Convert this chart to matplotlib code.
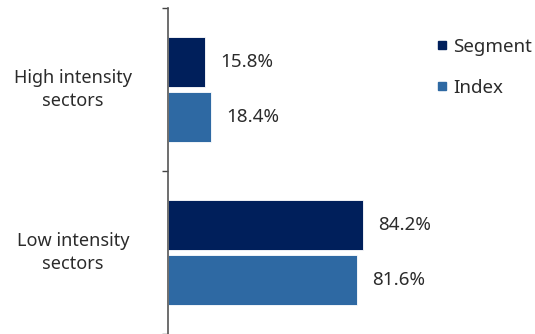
import matplotlib
matplotlib.use("Agg")
import matplotlib.pyplot as plt
from matplotlib.lines import Line2D

plt.rcParams["font.family"] = ["Noto Sans", "DejaVu Sans"]

# Data
categories = ["High intensity\nsectors", "Low intensity\nsectors"]
segment = [15.8, 84.2]
index = [18.4, 81.6]
series_names = ["Segment", "Index"]
colors = ["#001f5b", "#2e69a3"]
text_color = "#2b2b2b"

fig = plt.figure(figsize=(5.35, 3.34), dpi=100)
ax = fig.add_axes([168 / 535, 0.0, 348 / 535, 326 / 334])

pos = list(range(len(categories)))
off = 0.168
h = 0.31
for vals, name, color, d in zip([segment, index], series_names, colors, [-off, off]):
    ys = [p + d for p in pos]
    ax.barh(ys, vals, height=h, color=color, edgecolor="white", linewidth=0.6, label=name)
    for y, v in zip(ys, vals):
        ax.annotate(f"{v:.1f}%", (v, y), xytext=(11, 0), textcoords="offset points",
                    va="center", ha="left", fontsize=13.5, color=text_color)

ax.set_xlim(0, 150)
ax.set_ylim(1.5, -0.5)

# boundary ticks, labels placed separately
ax.set_yticks([-0.5, 0.5, 1.5])
ax.set_yticklabels([])
ax.tick_params(axis="y", length=4, width=1, color="#444444", direction="out")
ax.set_xticks([])

for s in ["top", "right", "bottom"]:
    ax.spines[s].set_visible(False)
ax.spines["left"].set_color("#555555")
ax.spines["left"].set_linewidth(1.2)

for p, cat in zip(pos, categories):
    y_fig = (8 + 163 * (p + 0.5)) / 334
    fig.text(73 / 535, 1 - y_fig, cat, ha="center", va="center", fontsize=13,
             color=text_color, multialignment="center", linespacing=1.3)

handles = [Line2D([], [], marker="s", linestyle="none", markersize=5.5, color=c)
           for c in colors]
fig.legend(handles, series_names, loc="upper left", bbox_to_anchor=(425 / 535, 1 - 30 / 334),
           frameon=False, fontsize=13.5, handletextpad=0.1, labelspacing=1.25,
           handlelength=1.0, borderaxespad=0, labelcolor=text_color)

fig.savefig("out.png", dpi=100)
